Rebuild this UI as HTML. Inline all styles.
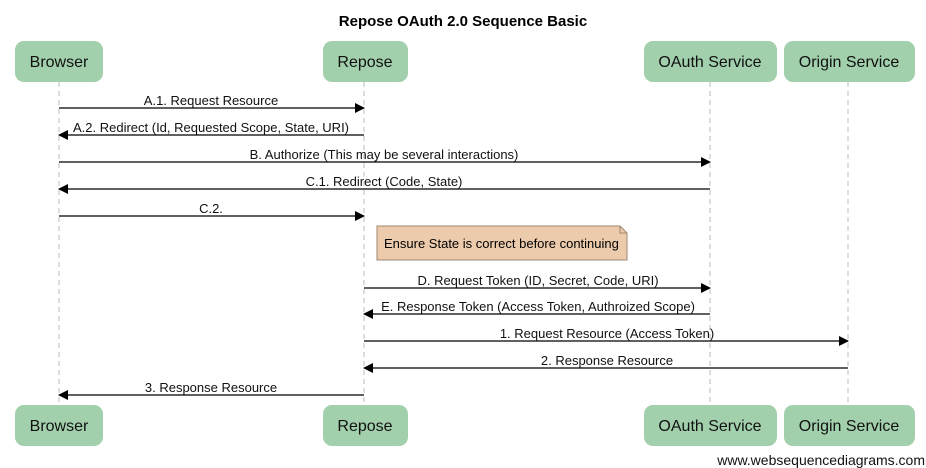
<!DOCTYPE html>
<html><head><meta charset="utf-8"><style>
html,body{margin:0;padding:0;background:#fff;}
svg{display:block;font-family:"Liberation Sans",Arial,sans-serif;}
</style></head><body>
<svg width="926" height="468" viewBox="0 0 926 468" xmlns="http://www.w3.org/2000/svg">
<defs>
<marker id="ah" markerWidth="10" markerHeight="10" refX="9" refY="5" orient="auto" markerUnits="userSpaceOnUse">
<path d="M0,0 L10,5 L0,10 Z" fill="#000"/>
</marker>
</defs>
<text x="463" y="26" text-anchor="middle" font-size="15" font-weight="bold">Repose OAuth 2.0 Sequence Basic</text>
<g stroke="#bbb" stroke-dasharray="5,4" stroke-width="1">
<line x1="59" y1="82" x2="59" y2="405"/>
<line x1="364" y1="82" x2="364" y2="405"/>
<line x1="710" y1="82" x2="710" y2="405"/>
<line x1="848" y1="82" x2="848" y2="405"/>
</g>
<g fill="#a2d0ac">
<rect x="15" y="41" width="88" height="41" rx="9"/>
<rect x="323" y="41" width="85" height="41" rx="9"/>
<rect x="644" y="41" width="133" height="41" rx="9"/>
<rect x="784" y="41" width="131" height="41" rx="9"/>
<rect x="15" y="405" width="88" height="41" rx="9"/>
<rect x="323" y="405" width="85" height="41" rx="9"/>
<rect x="644" y="405" width="133" height="41" rx="9"/>
<rect x="784" y="405" width="131" height="41" rx="9"/>
</g>
<g font-size="16" text-anchor="middle" fill="#111">
<text x="59" y="67">Browser</text>
<text x="365" y="67">Repose</text>
<text x="710" y="67">OAuth Service</text>
<text x="849" y="67">Origin Service</text>
<text x="59" y="431">Browser</text>
<text x="365" y="431">Repose</text>
<text x="710" y="431">OAuth Service</text>
<text x="849" y="431">Origin Service</text>
</g>
<path d="M377,226 L620,226 L627,233 L627,260 L377,260 Z" fill="#eccbad" stroke="#a08770"/>
<path d="M620,226 L620,233 L627,233" fill="none" stroke="#a08770"/>
<text x="384" y="248" font-size="13">Ensure State is correct before continuing</text>
<g stroke="#000" stroke-width="1.2" marker-end="url(#ah)">
<line x1="59" y1="108" x2="364" y2="108"/>
<line x1="364" y1="135" x2="59" y2="135"/>
<line x1="59" y1="162" x2="710" y2="162"/>
<line x1="710" y1="189" x2="59" y2="189"/>
<line x1="59" y1="216" x2="364" y2="216"/>
<line x1="364" y1="288" x2="710" y2="288"/>
<line x1="710" y1="314" x2="364" y2="314"/>
<line x1="364" y1="341" x2="848" y2="341"/>
<line x1="848" y1="368" x2="364" y2="368"/>
<line x1="364" y1="395" x2="59" y2="395"/>
</g>
<g font-size="13" text-anchor="middle" fill="#111">
<text x="211" y="105">A.1. Request Resource</text>
<text x="211" y="132">A.2. Redirect (Id, Requested Scope, State, URI)</text>
<text x="384" y="159">B. Authorize (This may be several interactions)</text>
<text x="384" y="186">C.1. Redirect (Code, State)</text>
<text x="211" y="213">C.2.</text>
<text x="538" y="285">D. Request Token (ID, Secret, Code, URI)</text>
<text x="538" y="311">E. Response Token (Access Token, Authroized Scope)</text>
<text x="607" y="338">1. Request Resource (Access Token)</text>
<text x="607" y="365">2. Response Resource</text>
<text x="211" y="392">3. Response Resource</text>
</g>
<text x="925" y="465" font-size="14" text-anchor="end" fill="#111">www.websequencediagrams.com</text>
</svg>
</body></html>
